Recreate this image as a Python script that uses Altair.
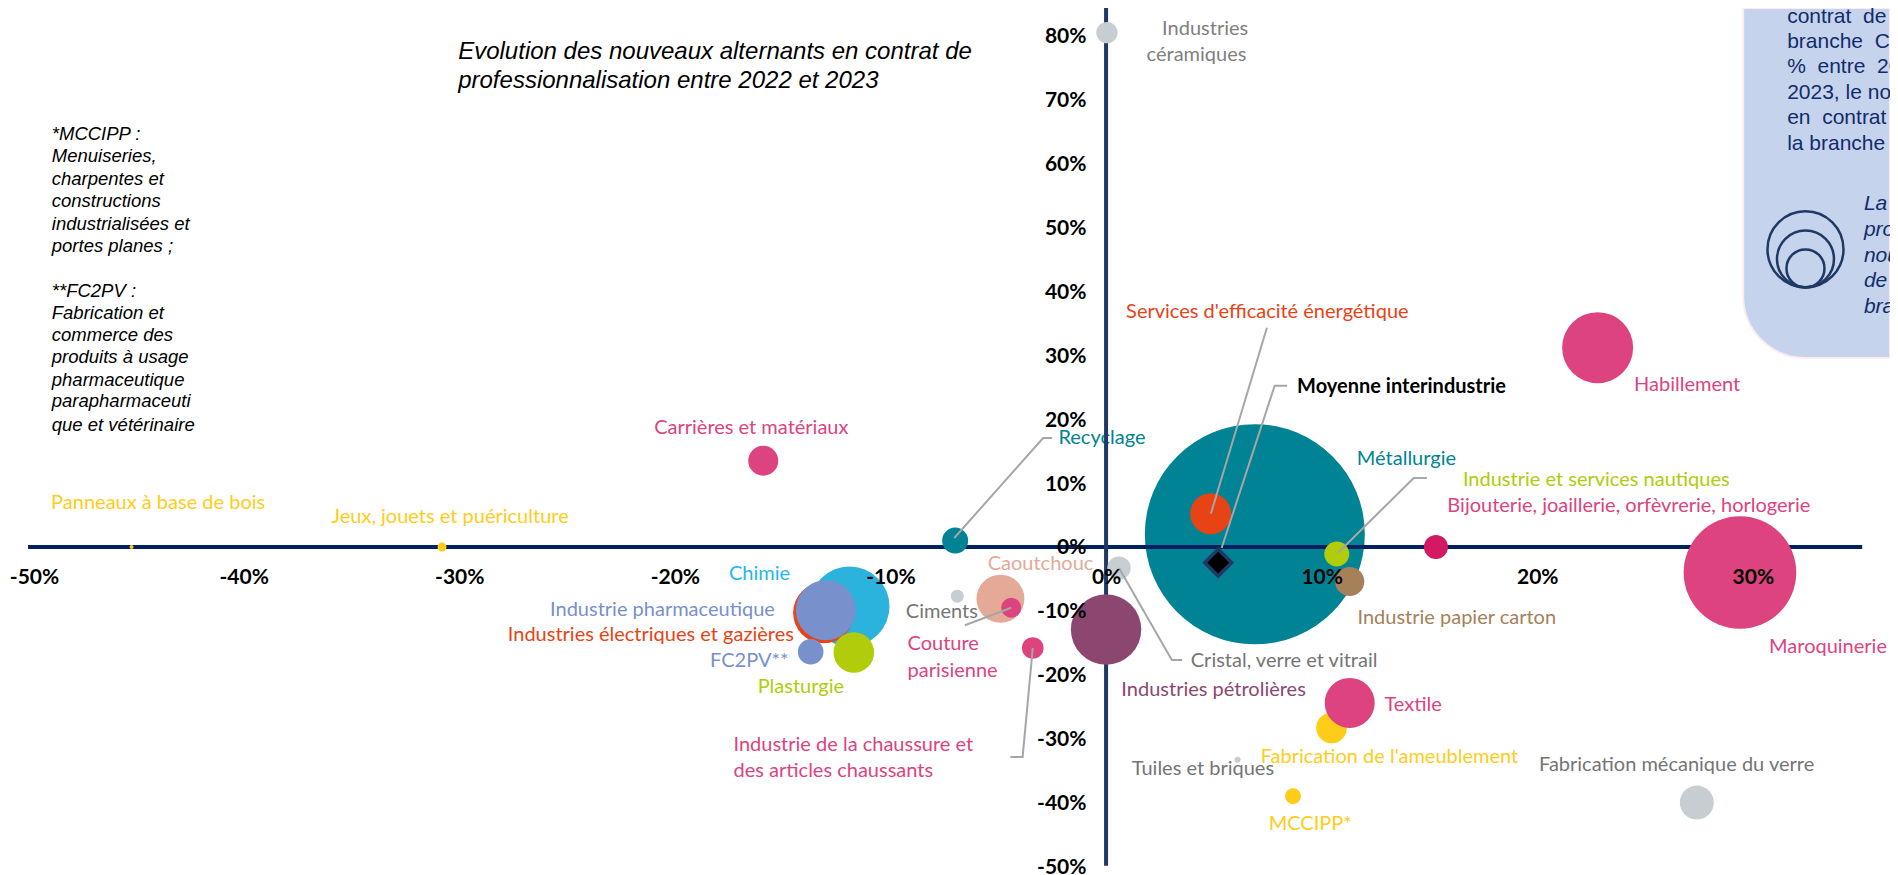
import altair as alt
import pandas as pd

# ---- bubbles: evolution x (%), evolution y (%), size value, colour
noms = ["Métallurgie", "Habillement", "Industries céramiques", "Carrières et matériaux", "Panneaux à base de bois",
        "Jeux, jouets et puériculture", "Recyclage", "Chimie", "Industries électriques et gazières",
        "Industrie pharmaceutique", "FC2PV", "Plasturgie", "Ciments", "Caoutchouc", "Couture parisienne",
        "Industrie de la chaussure", "Industries pétrolières", "Cristal, verre et vitrail",
        "Services d'efficacité énergétique", "Industrie et services nautiques", "Bijouterie", "Industrie papier carton",
        "Maroquinerie", "Fabrication de l'ameublement", "Textile", "Tuiles et briques", "MCCIPP",
        "Fabrication mécanique du verre"]
evol_x = [6.9, 22.8, 0.04, -15.9, -45.2, -30.8, -7.0, -11.9, -13.1, -13.0, -13.7, -11.7, -6.9, -4.9, -4.4, -3.4, 0.0, 0.6,
          4.85, 10.7, 15.3, 11.3, 29.4, 10.46, 11.3, 6.1, 8.67, 27.4]
evol_y = [2.0, 31.2, 80.5, 13.5, 0.0, 0.0, 1.0, -9.3, -10.3, -9.9, -16.4, -16.5, -7.7, -8.1, -9.5, -15.8, -12.9, -3.3,
          5.2, -1.1, 0.0, -5.4, -4.0, -28.3, -24.4, -33.3, -39.0, -40.0]
effectif = [12100, 1260, 114, 225, 4, 20, 169, 1600, 930, 900, 164, 412, 42, 576, 100, 117, 1239, 137,
            420, 156, 144, 213, 3170, 237, 625, 9, 64, 289]
couleur = ["#008394", "#DC437F", "#C8CDD1", "#DC437F", "#FFCC1A", "#FFCC1A", "#008394", "#2BB3DD", "#E84315", "#7890CC",
           "#7890CC", "#B0CC0A", "#C8CDD1", "#E5A998", "#DC437F", "#DC437F", "#8C4771", "#C8CDD1", "#E84315", "#B0CC0A",
           "#D21961", "#A68059", "#DC437F", "#FFCC1A", "#DC437F", "#C8CDD1", "#FFCC1A", "#C8CDD1"]

# ---- average
moyenne_x = [5.2]
moyenne_y = [-2.45]

# ---- bubble labels
lab_txt = ["Panneaux à base de bois", "Jeux, jouets et puériculture", "Chimie", "Industrie pharmaceutique",
           "Industries électriques et gazières", "FC2PV**", "Plasturgie", "Ciments", "Couture", "parisienne",
           "Industrie de la chaussure et", "des articles chaussants", "Carrières et matériaux", "Industries", "céramiques",
           "Services d'efficacité énergétique", "Habillement", "Métallurgie", "Industrie et services nautiques",
           "Bijouterie, joaillerie, orfèvrerie, horlogerie", "Caoutchouc", "Industrie papier carton", "Maroquinerie",
           "Cristal, verre et vitrail", "Industries pétrolières", "Textile", "Fabrication de l'ameublement",
           "Tuiles et briques", "Fabrication mécanique du verre", "MCCIPP*"]
lab_x = [-48.93, -35.92, -17.49, -25.79, -27.75, -18.37, -16.16, -9.29, -9.21, -9.21, -17.28, -17.28, -20.96, 2.6, 1.88,
         0.93, 24.49, 11.63, 16.55, 15.83, -5.49, 11.66, 30.75, 3.93, 0.71, 12.91, 7.17, 1.19, 20.08, 7.54]
lab_y = [6.93, 4.69, -4.23, -9.86, -13.77, -17.79, -21.91, -10.13, -15.18, -19.36, -30.99, -35.05, 18.67, 81.06, 77.0,
         36.82, 25.35, 13.77, 10.49, 6.46, -2.66, -11.06, -15.6, -17.79, -22.38, -24.73, -32.82, -34.74, -34.12, -43.35]
lab_col = ["#FFCC1A", "#FFCC1A", "#1FB6F2", "#7890CC", "#E84315", "#7890CC", "#B0CC0A", "#757575", "#DC437F", "#DC437F",
           "#DC437F", "#DC437F", "#DC437F", "#808080", "#808080", "#E84315", "#DC437F", "#008394", "#B0CC0A", "#DC437F",
           "#E5A998", "#A68059", "#DC437F", "#757575", "#8C4771", "#DC437F", "#FFCC1A", "#757575", "#757575", "#FFCC1A"]

# ---- leader lines (%, %)
lead_id = [1, 1, 1, 2, 2, 3, 3, 3, 4, 4, 4, 5, 5, 5, 6, 6, 7, 7, 7]
lead_x = [-7.04, -2.92, -2.50, 4.86, 7.46, 5.36, 7.82, 8.4, 10.75, 14.27, 14.88, 0.6, 3.05, 3.53, -4.4, -6.55, -3.4, -3.87, -4.44]
lead_y = [1.41, 17.06, 17.06, 5.2, 34.3, -0.16, 25.25, 25.25, -0.94, 10.8, 10.8, -3.3, -17.67, -17.67, -9.5, -12.25, -15.82, -32.85, -32.85]

# ---- title and notes
titre = ["Evolution des nouveaux alternants en contrat de", "professionnalisation entre 2022 et 2023"]
titre_x = [-30.05, -30.05]
titre_y = [77.4, 73.0]
note = ["*MCCIPP :", "Menuiseries,", "charpentes et", "constructions", "industrialisées et", "portes planes ;",
        "**FC2PV :", "Fabrication et", "commerce des", "produits à usage", "pharmaceutique", "parapharmaceuti", "que et vétérinaire"]
note_x = [-48.9] * 13
note_y = [64.6, 61.2, 57.6, 54.2, 50.5, 47.1, 40.1, 36.6, 33.1, 29.7, 26.2, 22.8, 19.1]

# ---- callout box
boite_x, boite_x2 = [29.55], [36.36]
boite_y, boite_y2 = [29.58], [84.35]
encart = ["contrat\u00a0\u00a0de", "branche\u00a0\u00a0Co", "%\u00a0\u00a0entre\u00a0\u00a020", "2023, le nom",
          "en\u00a0\u00a0contrat\u00a0\u00a0d", "la branche a"]
encart_x = [31.59] * 6
encart_y = [82.9, 79.1, 75.1, 71.1, 67.1, 63.1]
encart2 = ["La t", "prop", "nou", "de p", "bran"]
encart2_x = [35.15] * 5
encart2_y = [53.7, 49.6, 45.6, 41.7, 37.6]
cercles_x = [32.44, 32.44, 32.44]
cercles_y = [46.59, 45.07, 43.6]
cercles_v = [1444, 812, 361]

# ---- scales and axes
xs = alt.Scale(domain=[-50.93, 36.36], range=[0, 1882], nice=False, zero=False)
ys = alt.Scale(domain=[-51.33, 84.35], range=[867, 0], nice=False, zero=False)
ticks_x = [-50, -40, -30, -20, -10, 0, 10, 20, 30]
ticks_y = [-50, -40, -30, -20, -10, 0, 10, 20, 30, 40, 50, 60, 70, 80]
ax_common = dict(domain=False, ticks=False, grid=False, title=None, labelFont="Lato", labelFontWeight="bold",
                 labelFontSize=21, labelColor="#000000", labelExpr="datum.value + '%'", labelOverlap=False,
                 labelBound=False, labelFlush=False, zindex=1)
xax = alt.Axis(orient="bottom", offset=-328, labelPadding=19, values=ticks_x,
               labelOffset={"condition": {"test": "datum.value === -50", "value": 6}, "value": 0},
               **ax_common)
yax = alt.Axis(orient="left", offset=-1098, labelPadding=20, labelOffset=1, values=ticks_y, **ax_common)
sz = alt.Scale(domain=[0, 10000], range=[0, 40000])


def X(f="x"):
    return alt.X(f"{f}:Q", scale=xs, axis=xax, title=None)


def Y(f="y"):
    return alt.Y(f"{f}:Q", scale=ys, axis=yax, title=None)


bulles = pd.DataFrame({"nom": noms, "x": evol_x, "y": evol_y, "v": effectif, "c": couleur})
labels = pd.DataFrame({"t": lab_txt, "x": lab_x, "y": lab_y, "c": lab_col})
FONT = dict(font="Lato", fontSize=20, align="left", baseline="middle")


def bubble_layer(df):
    return alt.Chart(df).mark_circle(opacity=1).encode(
        x=X(), y=Y(), size=alt.Size("v:Q", scale=sz, legend=None), color=alt.Color("c:N", scale=None), order=alt.Order("i:Q"))


bulles["i"] = range(len(bulles))

boite = alt.Chart(pd.DataFrame({"x": boite_x, "x2": boite_x2, "y": boite_y, "y2": boite_y2})).mark_rect(
    color="#C5D3EC", stroke="#FBECEF", strokeWidth=2, cornerRadiusBottomLeft=62
).encode(x=X(), x2="x2:Q", y=Y(), y2="y2:Q")

recyclage = alt.Chart(pd.DataFrame({"t": ["Recyclage"], "x": [-2.21], "y": [17.06]})).mark_text(color="#008394", **FONT).encode(
    x=X(), y=Y(), text="t:N")

axe_h = alt.Chart(pd.DataFrame({"x": [-50.0], "x2": [35.07], "y": [0.0]})).mark_rule(color="#002060", strokeWidth=4).encode(
    x=X(), x2="x2:Q", y=Y())
axe_v = alt.Chart(pd.DataFrame({"x": [0.0], "y": [-49.9], "y2": [84.35]})).mark_rule(color="#1F3864", strokeWidth=4).encode(
    x=X(), y=Y(), y2="y2:Q")

diamant = alt.Chart(pd.DataFrame({"x": moyenne_x, "y": moyenne_y})).mark_point(
    shape="diamond", filled=True, fill="#000000", stroke="#1F3864", strokeWidth=3.5, size=720, opacity=1
).encode(x=X(), y=Y())

guides = alt.Chart(pd.DataFrame({"g": lead_id, "x": lead_x, "y": lead_y, "o": range(len(lead_id))})).mark_line(
    color="#A6A6A6", strokeWidth=2
).encode(x=X(), y=Y(), detail="g:N", order="o:Q")

textes = alt.Chart(labels).mark_text(**FONT).encode(x=X(), y=Y(), text="t:N", color=alt.Color("c:N", scale=None))
moy_txt = alt.Chart(pd.DataFrame({"t": ["Moyenne interindustrie"], "x": [8.86], "y": [25.09]})).mark_text(
    color="#000000", fontWeight="bold", **FONT).encode(x=X(), y=Y(), text="t:N")

titre_l = alt.Chart(pd.DataFrame({"t": titre, "x": titre_x, "y": titre_y})).mark_text(
    font="Liberation Sans", fontStyle="italic", fontSize=24, align="left", baseline="middle", color="#000000"
).encode(x=X(), y=Y(), text="t:N")
note_l = alt.Chart(pd.DataFrame({"t": note, "x": note_x, "y": note_y})).mark_text(
    font="Liberation Sans", fontStyle="italic", fontSize=18.5, align="left", baseline="middle", color="#000000"
).encode(x=X(), y=Y(), text="t:N")
encart_l = alt.Chart(pd.DataFrame({"t": encart, "x": encart_x, "y": encart_y})).mark_text(
    font="Liberation Sans", fontSize=21, align="left", baseline="middle", color="#122C6B"
).encode(x=X(), y=Y(), text="t:N")
encart2_l = alt.Chart(pd.DataFrame({"t": encart2, "x": encart2_x, "y": encart2_y})).mark_text(
    font="Liberation Sans", fontStyle="italic", fontSize=21, align="left", baseline="middle", color="#122C6B"
).encode(x=X(), y=Y(), text="t:N")
cercles = alt.Chart(pd.DataFrame({"x": cercles_x, "y": cercles_y, "v": cercles_v})).mark_point(
    shape="circle", filled=False, stroke="#1F3864", strokeWidth=2.5, opacity=1
).encode(x=X(), y=Y(), size=alt.Size("v:Q", scale=sz, legend=None))

chart = alt.layer(
    boite, bubble_layer(bulles[bulles.nom == "Métallurgie"]), recyclage, axe_h, axe_v,
    bubble_layer(bulles[bulles.nom != "Métallurgie"]), diamant, guides, textes, moy_txt,
    titre_l, note_l, encart_l, encart2_l, cercles
).properties(width=1882, height=867, padding=0, autosize=alt.AutoSizeParams(type="none")).configure_view(stroke=None)

chart.save("out.html", embed_options={"renderer": "svg", "actions": False})
